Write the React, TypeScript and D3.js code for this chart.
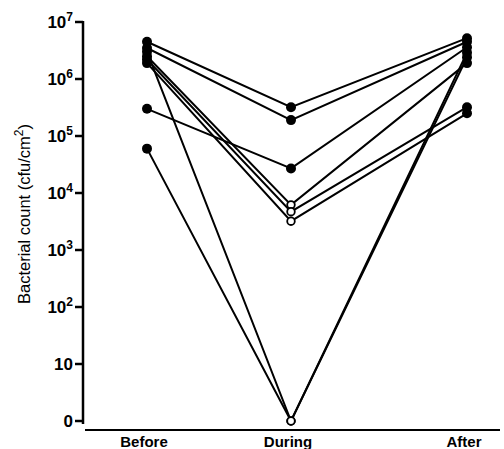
import React, { useEffect, useRef } from 'react';
import * as d3 from 'd3';

const categories = ['Before', 'During', 'After'];
// one row per subject: Before, During, After (cfu/cm2); 1 is plotted as "0"
const before = [4.5e6, 3.5e6, 3e5, 2.5e6, 2.2e6, 1.9e6, 3e6, 6e4];
const during = [3.2e5, 1.9e5, 2.7e4, 6.2e3, 4.7e3, 3.2e3, 1, 1];
const after = [5.2e6, 4.5e6, 3.6e6, 1.9e6, 3.2e5, 2.5e5, 2.4e6, 2.9e6];
const duringOpen = [false, false, false, true, true, true, true, true];
const tickValues = [1, 10, 1e2, 1e3, 1e4, 1e5, 1e6, 1e7];

const App = () => {
  const ref = useRef<SVGSVGElement>(null);

  useEffect(() => {
    const svg = d3.select(ref.current);
    svg.selectAll('*').remove();

    const x = d3.scaleOrdinal<string, number>().domain(categories).range([147, 291, 467]);
    const y = d3.scaleLog().domain([1, 1e7]).range([421, 22]);
    const font = 'Liberation Sans, Arial, sans-serif';

    // y axis
    svg.append('line').attr('x1', 83).attr('x2', 83).attr('y1', y(1e7) - 1).attr('y2', 424)
      .attr('stroke', '#000').attr('stroke-width', 2.5);
    const ticks = svg.append('g');
    tickValues.forEach(v => {
      ticks.append('line').attr('x1', 75).attr('x2', 83).attr('y1', y(v)).attr('y2', y(v))
        .attr('stroke', '#000').attr('stroke-width', 2.5);
      const t = ticks.append('text').attr('x', 73).attr('y', y(v) + 6)
        .attr('text-anchor', 'end').attr('font-family', font).attr('font-weight', 'bold')
        .attr('font-size', 17);
      const e = Math.round(Math.log10(v));
      if (v === 1) t.text('0');
      else if (v === 10) t.text('10');
      else {
        t.append('tspan').text('10');
        t.append('tspan').attr('dy', -7).attr('font-size', 12).text(String(e));
      }
    });

    // x axis
    svg.append('line').attr('x1', 85).attr('x2', 500).attr('y1', 430).attr('y2', 430)
      .attr('stroke', '#000').attr('stroke-width', 2);
    svg.append('g').selectAll('text').data(categories).join('text')
      .attr('x', d => x(d) - 3).attr('y', 447).attr('text-anchor', 'middle')
      .attr('font-family', font).attr('font-weight', 'bold').attr('font-size', 15)
      .text(d => d);

    // y title
    const title = svg.append('text').attr('transform', 'translate(30,214) rotate(-90)')
      .attr('text-anchor', 'middle').attr('font-family', font).attr('font-size', 16.5);
    title.append('tspan').text('Bacterial count (cfu/cm');
    title.append('tspan').attr('dy', -7).attr('font-size', 12).text('2');
    title.append('tspan').attr('dy', 7).text(')');

    const subjects = before.map((b, i) => ({ values: [b, during[i], after[i]], open: duringOpen[i] }));
    const line = d3.line<number>().x((_, j) => x(categories[j])).y(v => y(v));

    svg.append('g').selectAll('path').data(subjects).join('path')
      .attr('d', d => line(d.values)).attr('fill', 'none')
      .attr('stroke', '#000').attr('stroke-width', 2);

    const pts = svg.append('g');
    subjects.forEach(s => {
      s.values.forEach((v, j) => {
        const open = j === 1 && s.open;
        pts.append('circle').attr('cx', x(categories[j])).attr('cy', y(v))
          .attr('r', open ? 3.8 : 5)
          .attr('fill', open ? '#fff' : '#000')
          .attr('stroke', '#000').attr('stroke-width', open ? 1.8 : 0);
      });
    });
  }, []);

  return <svg ref={ref} width={504} height={449} style={{ position: 'absolute', left: 0, top: 0, background: '#fff' }} />;
};

export default App;
